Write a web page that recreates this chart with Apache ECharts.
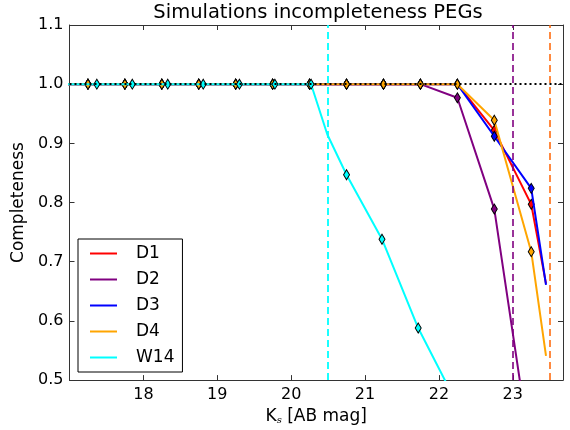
<!DOCTYPE html>
<html>
<head>
<meta charset="utf-8">
<script src="https://cdn.jsdelivr.net/npm/echarts@6/dist/echarts.min.js"></script>
<style>html,body{margin:0;padding:0;background:#fff}#c{width:570px;height:430px}</style>
</head>
<body>
<div id="c"></div>
<script>
// ---- data ----
var dX   = [16.75, 17.25, 17.75, 18.25, 18.75, 19.25, 19.75, 20.25, 20.75, 21.25, 21.75, 22.25, 22.75, 23.25, 23.45];
var D1   = [1, 1, 1, 1, 1, 1, 1, 1, 1, 1, 1, 1, 0.922, 0.797, 0.663];
var D2   = [1, 1, 1, 1, 1, 1, 1, 1, 1, 1, 1, 0.977, 0.789, 0.37, null];
var D3   = [1, 1, 1, 1, 1, 1, 1, 1, 1, 1, 1, 1, 0.912, 0.824, 0.661];
var D4   = [1, 1, 1, 1, 1, 1, 1, 1, 1, 1, 1, 1, 0.939, 0.717, 0.541];
var wX   = [16.89, 17.37, 17.85, 18.33, 18.81, 19.30, 19.78, 20.27, 20.49, 20.75, 21.23, 21.72, 22.20];
var W14  = [1, 1, 1, 1, 1, 1, 1, 1, 0.915, 0.847, 0.738, 0.588, 0.471];
var wMarked = [false, true, true, true, true, true, true, true, false, true, true, true, false];
var dMarked = [false, true, true, true, true, true, true, true, true, true, true, true, true, true, false];
var seriesNames = ['D1', 'D2', 'D3', 'D4', 'W14'];
var seriesColors = ['#ff0000', '#800080', '#0000ff', '#ffa500', '#00ffff'];
var limitMag = [23.5, 23.0, null, 23.5, 20.5];
var limitAlpha = [0.55, 0.8, 0.55, 0.45, 0.9];
var xTicks = [18, 19, 20, 21, 22, 23];

var FONT = 'DejaVu Sans';
function pts(xs, ys, marked) {
  var out = [];
  for (var i = 0; i < xs.length; i++) {
    if (ys[i] === null) continue;
    var p = {value: [xs[i], ys[i]]};
    if (!marked[i]) p.symbol = 'none';
    out.push(p);
  }
  return out;
}
var ser = [];
var ys = [D1, D2, D3, D4];
for (var k = 0; k < 5; k++) {
  var data = k < 4 ? pts(dX, ys[k], dMarked) : pts(wX, W14, wMarked);
  var s = {
    name: seriesNames[k], type: 'line', data: data, z: 2 + k * 0.1,
    symbol: 'diamond', symbolSize: [6, 10], showSymbol: true,
    color: seriesColors[k],
    lineStyle: {width: 2, color: seriesColors[k]},
    itemStyle: {color: seriesColors[k], borderColor: '#000', borderWidth: 1},
    emphasis: {disabled: true}, animation: false, clip: true
  };
  if (limitMag[k] !== null) {
    s.markLine = {
      silent: true, symbol: 'none', label: {show: false}, animation: false,
      lineStyle: {type: [7, 4], width: 2, color: seriesColors[k], opacity: limitAlpha[k]},
      data: [{xAxis: limitMag[k]}]
    };
  }
  ser.push(s);
}
// horizontal dotted reference at completeness 1
ser.push({
  name: 'ref', type: 'line', data: [], z: 3,
  markLine: {silent: true, symbol: 'none', label: {show: false}, animation: false,
    lineStyle: {type: [2, 3], width: 2, color: '#000'}, data: [{yAxis: 1.0}]}
});

var axisCommon = {
  axisLine: {show: true, lineStyle: {color: '#333', width: 1}},
  axisTick: {show: true, inside: true, length: 5, lineStyle: {color: '#333'}},
  splitLine: {show: false}
};
var chart = echarts.init(document.getElementById('c'), null, {renderer: 'canvas'});
chart.setOption({
  animation: false,
  backgroundColor: '#fff',
  title: {
    text: 'Simulations incompleteness PEGs', left: 313, top: -2, textAlign: 'center',
    textStyle: {fontFamily: FONT, fontSize: 19.5, fontWeight: 'normal', color: '#000'}
  },
  grid: {left: 69.5, right: 7, top: 25, bottom: 48, containLabel: false},
  legend: {
    data: seriesNames, orient: 'vertical', left: 78, top: 239,
    backgroundColor: '#fff', borderColor: '#000', borderWidth: 1,
    padding: [6, 8, 6, 12], itemGap: 9, itemWidth: 27, itemHeight: 2, icon: 'rect',
    itemStyle: {borderWidth: 0},
    selectedMode: false,
    textStyle: {fontFamily: FONT, fontSize: 17, color: '#000', padding: [0, 0, 0, 14], lineHeight: 17}
  },
  xAxis: [
    Object.assign({}, axisCommon, {
      type: 'value', min: 17, max: 23.68, interval: 1, position: 'bottom',
      axisLabel: {fontFamily: FONT, fontSize: 16, color: '#000', margin: 7,
        formatter: function (v) { return xTicks.indexOf(v) >= 0 ? String(v) : ''; }},
      name: '{a|K}{s|s}{a| [AB mag]}', nameLocation: 'middle', nameGap: 16,
      nameTextStyle: {fontFamily: FONT, fontSize: 17, color: '#000',
        rich: {a: {fontFamily: FONT, fontSize: 17, color: '#000', lineHeight: 22, verticalAlign: 'bottom'},
               s: {fontFamily: 'DejaVu Serif', fontStyle: 'italic', fontSize: 10, color: '#000', lineHeight: 16, verticalAlign: 'bottom'}}}
    }),
    Object.assign({}, axisCommon, {
      type: 'value', min: 17, max: 23.68, interval: 1, position: 'top',
      axisLabel: {show: false}
    })
  ],
  yAxis: [
    Object.assign({}, axisCommon, {
      type: 'value', min: 0.5, max: 1.1, interval: 0.1, position: 'left',
      axisLabel: {fontFamily: FONT, fontSize: 16, color: '#000', margin: 6,
        formatter: function (v) { return v.toFixed(1); }},
      name: 'Completeness', nameLocation: 'middle', nameGap: 35,
      nameTextStyle: {fontFamily: FONT, fontSize: 17, color: '#000'}
    }),
    Object.assign({}, axisCommon, {
      type: 'value', min: 0.5, max: 1.1, interval: 0.1, position: 'right',
      axisLabel: {show: false}
    })
  ],
  series: ser
});
</script>
</body>
</html>
